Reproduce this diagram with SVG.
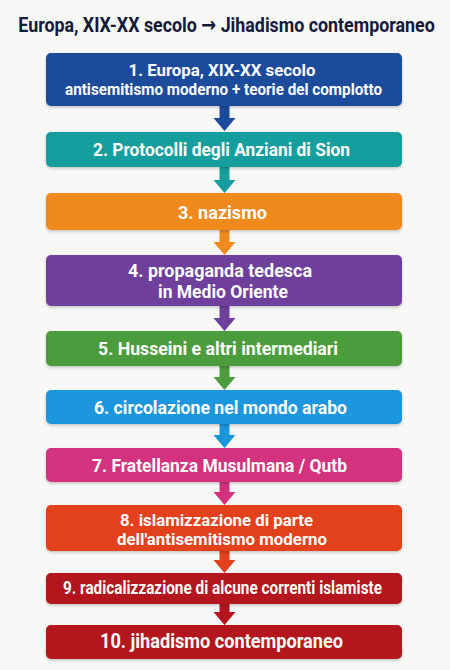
<svg xmlns="http://www.w3.org/2000/svg" width="450" height="670" viewBox="0 0 450 670">
<defs>
<filter id="sh" x="-5%" y="-20%" width="110%" height="150%">
<feDropShadow dx="0" dy="1.5" stdDeviation="1.5" flood-color="#000" flood-opacity="0.22"/>
</filter>
</defs>
<style>
.bx{filter:url(#sh)}
.t{font-family:Roboto,"Liberation Sans",sans-serif;font-weight:700;fill:#fff;text-anchor:middle}
.title{font-family:Roboto,"Liberation Sans",sans-serif;font-weight:700;fill:#15193a;text-anchor:middle;font-size:21px}
.ar{font-family:"DejaVu Sans",sans-serif;font-weight:700}
</style>
<rect width="450" height="670" fill="#f8f8f6"/>
<text class="title" transform="translate(226.5,32) scale(0.85,1)" x="0" y="0" textLength="490" lengthAdjust="spacingAndGlyphs">Europa, XIX-XX secolo <tspan class="ar">→</tspan> Jihadismo contemporaneo</text>
<g id="connectors">
<path fill="#1c4b9c" d="M219.5 106h10v12h6l-11 13l-11-13h6z"/>
<path fill="#179d9d" d="M219.5 167h10v13h6l-11 13l-11-13h6z"/>
<path fill="#f08a1e" d="M219.5 230h10v12h6l-11 13l-11-13h6z"/>
<path fill="#6e409c" d="M219.5 306h10v12h6l-11 13l-11-13h6z"/>
<path fill="#4c9c3e" d="M219.5 366h10v11h6l-11 13l-11-13h6z"/>
<path fill="#1b96dc" d="M219.5 424h10v11h6l-11 13l-11-13h6z"/>
<path fill="#d2317e" d="M219.5 482h10v10h6l-11 13l-11-13h6z"/>
<path fill="#e3401f" d="M219.5 551h10v9h6l-11 13l-11-13h6z"/>
<path fill="#b3151f" d="M219.5 604h10v8h6l-11 13l-11-13h6z"/>
</g>
<g id="n1"><rect class="bx" x="46" y="53" width="356" height="53" rx="5" fill="#1c4b9c"/>
<text class="t" x="222" y="76" font-size="17" textLength="187" lengthAdjust="spacingAndGlyphs">1. Europa, XIX-XX secolo</text>
<text class="t" x="223.5" y="95" font-size="17" textLength="317" lengthAdjust="spacingAndGlyphs">antisemitismo moderno + teorie del complotto</text></g>
<g id="n2"><rect class="bx" x="46" y="132" width="356" height="35" rx="5" fill="#179d9d"/>
<text class="t" x="221.5" y="156" font-size="19" textLength="257" lengthAdjust="spacingAndGlyphs">2. Protocolli degli Anziani di Sion</text></g>
<g id="n3"><rect class="bx" x="46" y="193" width="356" height="37" rx="5" fill="#f08a1e"/>
<text class="t" x="222.5" y="219" font-size="19" textLength="89" lengthAdjust="spacingAndGlyphs">3. nazismo</text></g>
<g id="n4"><rect class="bx" x="46" y="255" width="356" height="51" rx="5" fill="#6e409c"/>
<text class="t" x="220" y="277" font-size="18" textLength="184" lengthAdjust="spacingAndGlyphs">4. propaganda tedesca</text>
<text class="t" x="223" y="298" font-size="18" textLength="130" lengthAdjust="spacingAndGlyphs">in Medio Oriente</text></g>
<g id="n5"><rect class="bx" x="46" y="331" width="356" height="35" rx="5" fill="#4c9c3e"/>
<text class="t" x="218" y="355" font-size="19" textLength="240" lengthAdjust="spacingAndGlyphs">5. Husseini e altri intermediari</text></g>
<g id="n6"><rect class="bx" x="46" y="390" width="356" height="34" rx="5" fill="#1b96dc"/>
<text class="t" x="220.5" y="414" font-size="19" textLength="253" lengthAdjust="spacingAndGlyphs">6. circolazione nel mondo arabo</text></g>
<g id="n7"><rect class="bx" x="46" y="448" width="356" height="34" rx="5" fill="#d2317e"/>
<text class="t" x="219.5" y="472" font-size="19" textLength="255" lengthAdjust="spacingAndGlyphs">7. Fratellanza Musulmana / Qutb</text></g>
<g id="n8"><rect class="bx" x="46" y="505" width="356" height="46" rx="5" fill="#e3401f"/>
<text class="t" x="216.5" y="525.5" font-size="17" textLength="193" lengthAdjust="spacingAndGlyphs">8. islamizzazione di parte</text>
<text class="t" x="222" y="544.5" font-size="17" textLength="210" lengthAdjust="spacingAndGlyphs">dell'antisemitismo moderno</text></g>
<g id="n9"><rect class="bx" x="46" y="573" width="356" height="31" rx="5" fill="#b3151f"/>
<text class="t" x="222.5" y="594" font-size="18" textLength="319" lengthAdjust="spacingAndGlyphs">9. radicalizzazione di alcune correnti islamiste</text></g>
<g id="n10"><rect class="bx" x="46" y="625" width="356" height="34" rx="5" fill="#b3141f"/>
<text class="t" x="221.5" y="648" font-size="19.5" textLength="243" lengthAdjust="spacingAndGlyphs">10. jihadismo contemporaneo</text></g>
</svg>
